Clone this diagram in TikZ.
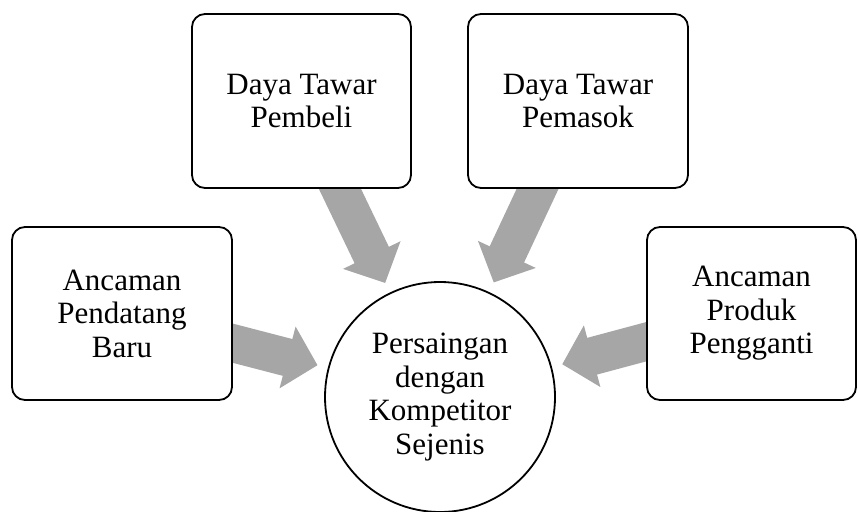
\documentclass[tikz,border=0pt]{standalone}
\usepackage{fontspec}
\setmainfont{Liberation Serif}
\usetikzlibrary{arrows.meta,calc}
\definecolor{arrowgray}{RGB}{166,166,166}
\tikzset{
  box/.style={draw=black, line width=1.8pt, rounded corners=13pt, fill=white,
    align=center, inner sep=0pt, font=\fontsize{31}{33.5}\selectfont},
  hub/.style={draw=black, line width=1.8pt, circle, fill=white, align=center,
    inner sep=0pt, minimum size=230pt, font=\fontsize{31}{33.5}\selectfont},
  bigarrow/.style={draw=arrowgray, line width=38pt,
    -{Triangle[length=31pt,width=62pt]}, shorten >=126.5pt}
}
\begin{document}
\begin{tikzpicture}[x=1pt,y=-1pt]
\useasboundingbox (0,0) rectangle (858,511);
% hub
\coordinate (C) at (440,397);
% arrow tails (at box edges)
\coordinate (tL) at (232,343);
\coordinate (tTL) at (339.5,188);
\coordinate (tTR) at (538,188);
\coordinate (tR) at (647,341.5);
\draw[bigarrow] ($(tL)!-30pt!(C)$) -- (C);
\draw[bigarrow] ($(tTL)!-30pt!(C)$) -- (C);
\draw[bigarrow] ($(tTR)!-30pt!(C)$) -- (C);
\draw[bigarrow] ($(tR)!-30pt!(C)$) -- (C);
% boxes
\node[box, minimum width=220pt, minimum height=173pt] (L) at (122,313.5) {Ancaman\\Pendatang\\Baru};
\node[box, minimum width=219pt, minimum height=174pt] (TL) at (301.5,101) {Daya Tawar\\Pembeli};
\node[box, minimum width=220pt, minimum height=174pt] (TR) at (578,101) {Daya Tawar\\Pemasok};
\node[box, minimum width=209pt, minimum height=173pt] (R) at (751.5,313.5) {Ancaman\\Produk\\Pengganti};
\node[hub] (H) at (C) {Persaingan\\dengan\\Kompetitor\\Sejenis};
\end{tikzpicture}
\end{document}
